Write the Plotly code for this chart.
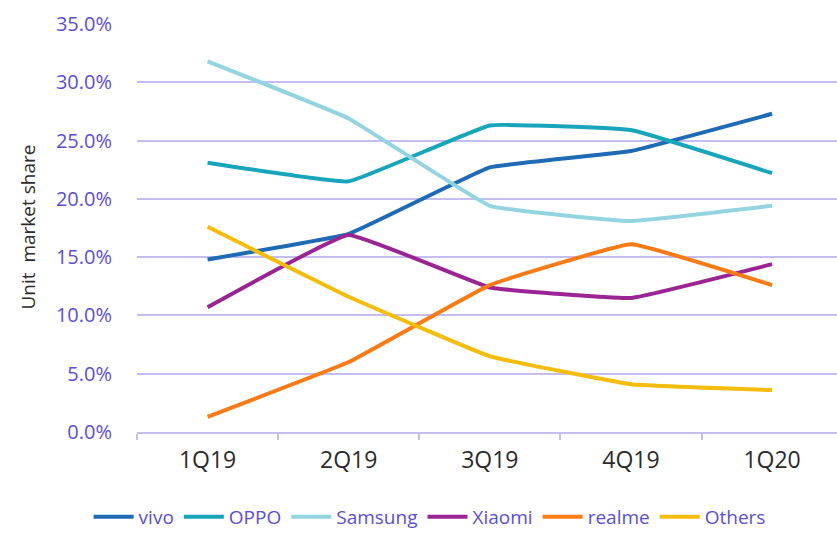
import plotly.graph_objects as go

quarters = ["1Q19", "2Q19", "3Q19", "4Q19", "1Q20"]
vivo = [0.148, 0.170, 0.227, 0.241, 0.273]
oppo = [0.231, 0.215, 0.263, 0.259, 0.222]
samsung = [0.318, 0.269, 0.194, 0.181, 0.194]
xiaomi = [0.107, 0.169, 0.124, 0.115, 0.144]
realme = [0.013, 0.060, 0.126, 0.161, 0.126]
others = [0.176, 0.116, 0.065, 0.041, 0.036]

series = [
    ("vivo", vivo, "#1E6AB4"),
    ("OPPO", oppo, "#17A5BC"),
    ("Samsung", samsung, "#92D5E0"),
    ("Xiaomi", xiaomi, "#9A2494"),
    ("realme", realme, "#F97B17"),
    ("Others", others, "#F4BD0B"),
]

fig = go.Figure()
for name, vals, col in series:
    fig.add_trace(go.Scatter(
        x=quarters, y=vals, name=name, mode="lines",
        line=dict(color=col, width=4, shape="spline", smoothing=0.25),
    ))

W, H = 837, 536
L, T, B = 137, 24, 99
fig.update_layout(
    width=W, height=H,
    margin=dict(l=L, r=0, t=T, b=B),
    paper_bgcolor="white", plot_bgcolor="white",
    font=dict(family="Open Sans, sans-serif"),
    showlegend=True,
    legend=dict(
        orientation="h", x=0.418, xanchor="center", y=-0.208, yanchor="middle",
        font=dict(size=19, color="#5A4FCF"), itemwidth=40, traceorder="normal",
        tracegroupgap=0,
    ),
    xaxis=dict(
        type="category", range=[-0.5, 4.46],
        showgrid=False, showline=True, linecolor="#C5BDF0", linewidth=2,
        ticks="outside", tickson="boundaries", tickcolor="#C5BDF0", ticklen=6, tickwidth=2,
        tickfont=dict(size=23, color="#2B2B2B"), ticklabelstandoff=6,
        zeroline=False,
    ),
    yaxis=dict(
        range=[0, 0.35], dtick=0.05, tickformat=".1%",
        showgrid=True, gridcolor="#C5BDF0", gridwidth=2,
        tickfont=dict(size=20, color="#5A4FCF"), ticklabelstandoff=24,
        zeroline=False, showline=False,
    ),
    annotations=[dict(
        text="Unit  market share", textangle=-90, xref="paper", yref="paper",
        x=(28 - L) / (W - L), y=(437 - 230) / 413, xanchor="center", yanchor="middle",
        showarrow=False, font=dict(size=19, color="#2B2B2B"),
    )],
)

fig.write_html("out.html")
